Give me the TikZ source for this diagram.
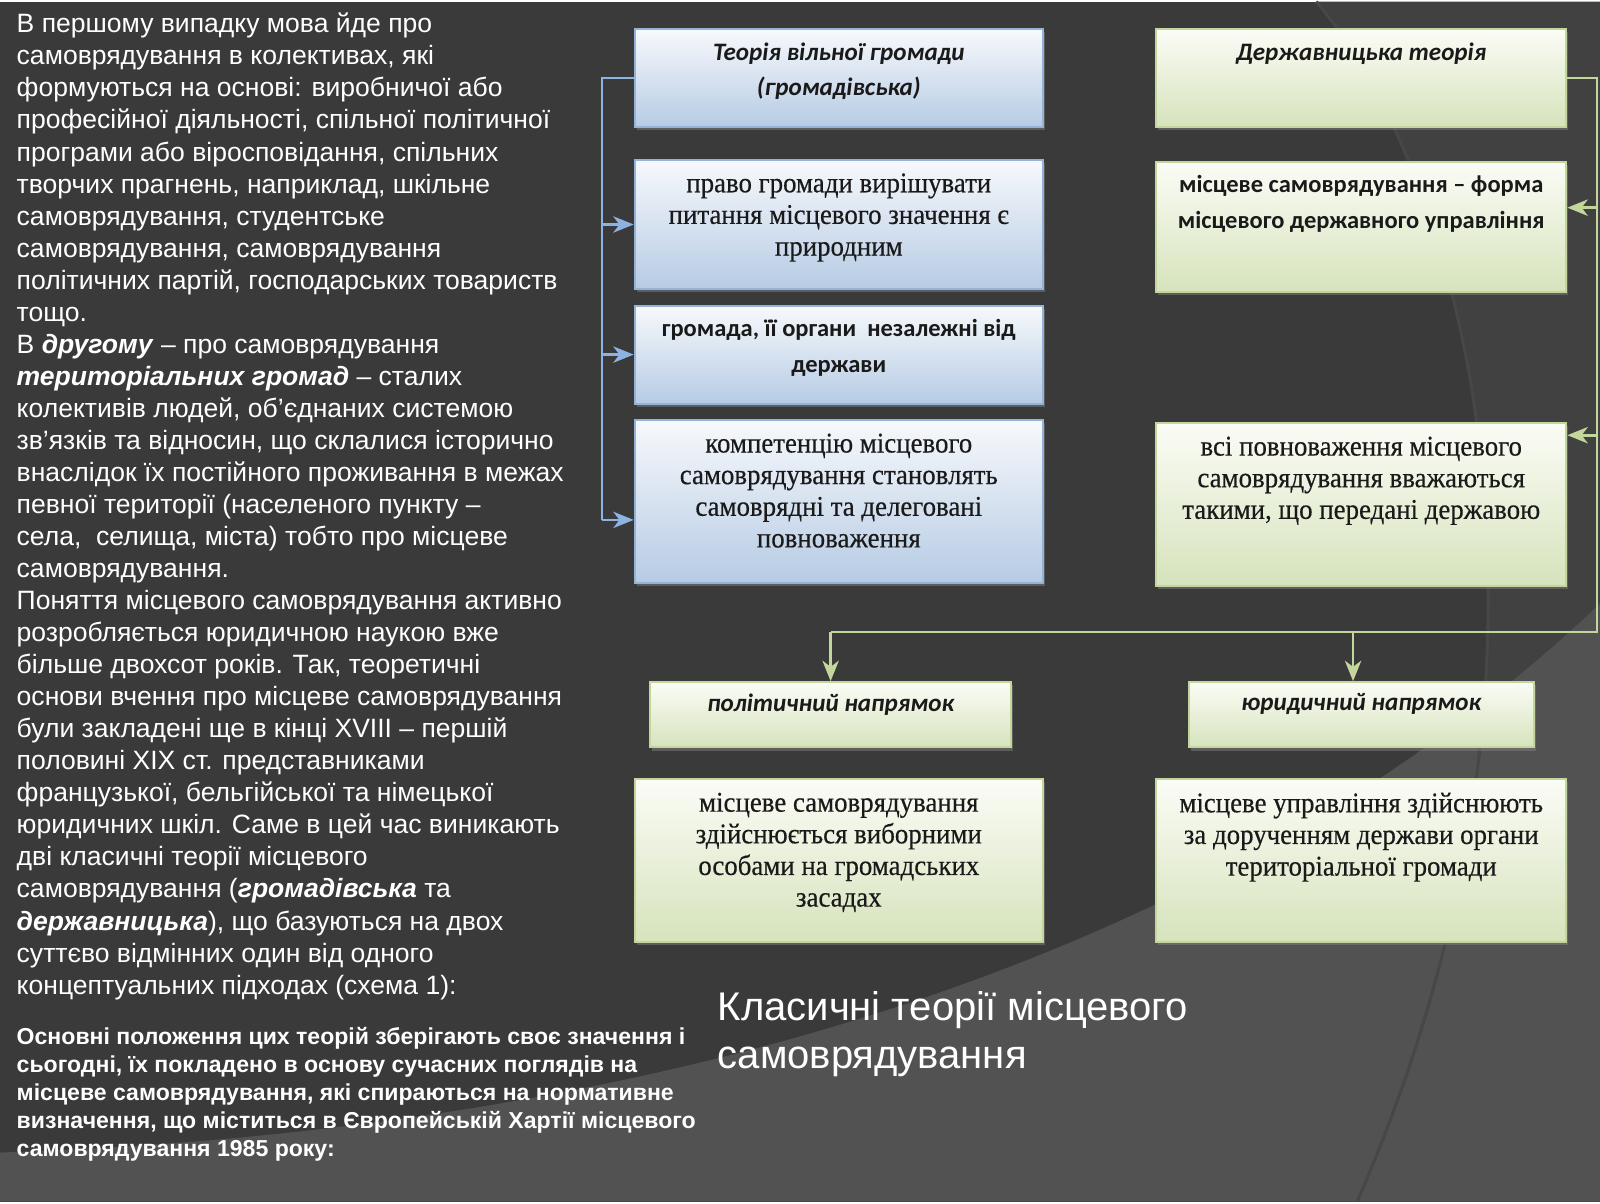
\documentclass[tikz,border=0pt]{standalone}
\usepackage{fontspec}
\setmainfont{Liberation Sans}
\newfontfamily\calfont{Carlito}
\newfontfamily\serfont{Liberation Serif}[FakeStretch=0.94, FakeBold=0.4]
\usetikzlibrary{positioning,arrows.meta,shadows}

\definecolor{bgdark}{HTML}{3A3A3A}
\definecolor{bgmid}{HTML}{414141}
\definecolor{bglight}{HTML}{525252}
\definecolor{bgline}{HTML}{474747}
\definecolor{bluetop}{HTML}{F7F9FC}
\definecolor{bluebot}{HTML}{B6CBE4}
\definecolor{blueedge}{HTML}{95B3D7}
\definecolor{blueln}{HTML}{8DB3E2}
\definecolor{greentop}{HTML}{FBFCF6}
\definecolor{greenbot}{HTML}{D6E3BC}
\definecolor{greenedge}{HTML}{C3D69B}
\definecolor{greenln}{HTML}{C3D69B}
\definecolor{boxink}{HTML}{1A1A1A}

\tikzset{
  box/.style={draw, line width=1pt, minimum width=200pt,
    drop shadow={shadow xshift=1pt, shadow yshift=-1.5pt, opacity=0.5}},
  bluebox/.style={box, draw=blueedge, top color=bluetop, bottom color=bluebot},
  greenbox/.style={box, draw=greenedge, top color=greentop, bottom color=greenbot},
  boxtext/.style={inner sep=0pt, align=center, text=boxink},
  captext/.style={boxtext, font=\calfont\bfseries\itshape\fontsize{12.3}{17}\selectfont},
  sanstext/.style={boxtext, font=\calfont\bfseries\fontsize{12}{17.5}\selectfont},
  sertext/.style={boxtext, font=\serfont\fontsize{14}{15.5}\selectfont},
  blueline/.style={draw=blueln, line width=1.3pt},
  greenline/.style={draw=greenln, line width=1.3pt},
  whitetext/.style={anchor=north west, inner sep=0pt, align=left, text=white}
}

\begin{document}
\begin{tikzpicture}[x=0.5pt, y=-0.5pt, >={Stealth[length=10pt,width=8pt,inset=3pt]}]
% background
\fill[bgdark] (0,0) rectangle (1568,1176);
\fill[bgmid] (1290,0) .. controls (1440,180) and (1560,650) .. (1330,1176) -- (1568,1176) -- (1568,0) -- cycle;
\fill[bglight] (0,1128) .. controls (600,1108) and (1180,960) .. (1568,590) -- (1568,1176) -- (0,1176) -- cycle;
\draw[bgline, line width=1.5pt] (1290,0) .. controls (1440,180) and (1560,650) .. (1330,1176);
\useasboundingbox (0,0) rectangle (1568,1176);

% left text
\node[whitetext, font=\fontsize{13}{15.7}\selectfont] (body) at (16,11) {В першому випадку мова йде про\\
самоврядування в колективах, які\\
формуються на основі: виробничої або\\
професійної діяльності, спільної політичної\\
програми або віросповідання, спільних\\
творчих прагнень, наприклад, шкільне\\
самоврядування, студентське\\
самоврядування, самоврядування\\
політичних партій, господарських товариств\\
тощо.\\
В \textbf{\textit{другому}} – про самоврядування\\
\textbf{\textit{територіальних громад}} – сталих\\
колективів людей, об’єднаних системою\\
зв’язків та відносин, що склалися історично\\
внаслідок їх постійного проживання в межах\\
певної території (населеного пункту –\\
села,\ \ селища, міста) тобто про місцеве\\
самоврядування.\\
Поняття місцевого самоврядування активно\\
розробляється юридичною наукою вже\\
більше двохсот років. Так, теоретичні\\
основи вчення про місцеве самоврядування\\
були закладені ще в кінці XVIII – першій\\
половині XIX ст. представниками\\
французької, бельгійської та німецької\\
юридичних шкіл. Саме в цей час виникають\\
дві класичні теорії місцевого\\
самоврядування (\textbf{\textit{громадівська}} та\\
\textbf{\textit{державницька}}), що базуються на двох\\
суттєво відмінних один від одного\\
концептуальних підходах (схема 1):};

\node[whitetext, font=\bfseries\fontsize{11.3}{13.65}\selectfont] (note) at (16,1005) {Основні положення цих теорій зберігають своє значення і\\
сьогодні, їх покладено в основу сучасних поглядів на\\
місцеве самоврядування, які спираються на нормативне\\
визначення, що міститься в Європейській Хартії місцевого\\
самоврядування 1985 року:};

\node[whitetext, font=\fontsize{19.6}{23.5}\selectfont] (title) at (703,970) {Класичні теорії місцевого\\самоврядування};

% connectors
\coordinate (bt) at (590,75);
\coordinate (bb) at (590,508);
\coordinate (gt) at (1565,75);
\coordinate (gb) at (1565,618);

\node[bluebox, minimum height=48pt] (b1) at (822,75) {};
\node[bluebox, minimum height=63.5pt] (b2) at (822,218.5) {};
\node[bluebox, minimum height=48pt] (b3) at (822,346) {};
\node[bluebox, minimum height=80pt] (b4) at (822,490) {};
\node[greenbox, minimum width=201pt, minimum height=48pt] (g1) at (1334,75) {};
\node[greenbox, minimum width=201pt, minimum height=64pt] (g2) at (1334,221) {};
\node[greenbox, minimum width=201pt, minimum height=80pt] (g3) at (1334,493) {};
\node[greenbox, minimum width=177pt, minimum height=32pt] (p1) at (814,699) {};
\node[greenbox, minimum width=169pt, minimum height=32pt] (p2) at (1334,699) {};
\node[greenbox, minimum height=80pt] (d1) at (822,842) {};
\node[greenbox, minimum width=201pt, minimum height=80pt] (d2) at (1334,842) {};

\path[blueline] (b1.west) -- (bt) -- (bb);
\path[blueline,->] (bt |- b2) -- (b2.west);
\path[blueline,->] (bt |- b3) -- (b3.west);
\path[blueline,->] (bb) -- (bb -| b4.west);

\coordinate (g2in) at ([yshift=9.5pt]g2.east);
\coordinate (g3in) at ([yshift=34pt]g3.east);
\coordinate (p2in) at ([xshift=-4pt]p2.north);
\path[greenline] (g1.east) -- (gt) -- (gb) -- (gb -| p1);
\path[greenline,->] (gt |- g2in) -- (g2in);
\path[greenline,->] (gt |- g3in) -- (g3in);
\path[greenline,->] (gb -| p1) -- (p1.north);
\path[greenline,->] (gb -| p2in) -- (p2in);

% box texts
\node[captext, below=7pt of b1.north] (b1t) {Теорія вільної громади\\(громадівська)};
\node[sertext, below=7pt of b2.north] (b2t) {право громади вирішувати\\питання місцевого значення є\\природним};
\node[sanstext, below=7pt of b3.north] (b3t) {громада, її органи\ \ незалежні від\\держави};
\node[sertext, below=7pt of b4.north] (b4t) {компетенцію місцевого\\самоврядування становлять\\самоврядні та делеговані\\повноваження};
\node[captext, below=7pt of g1.north] (g1t) {Державницька теорія};
\node[sanstext, below=7pt of g2.north] (g2t) {місцеве самоврядування – форма\\місцевого державного управління};
\node[sertext, below=7pt of g3.north] (g3t) {всі повноваження місцевого\\самоврядування вважаються\\такими, що передані державою};
\node[captext, below=6pt of p1.north] (p1t) {політичний напрямок};
\node[captext, below=6pt of p2.north] (p2t) {юридичний напрямок};
\node[sertext, below=7pt of d1.north] (d1t) {місцеве самоврядування\\здійснюється виборними\\особами на громадських\\засадах};
\node[sertext, below=7pt of d2.north] (d2t) {місцеве управління здійснюють\\за дорученням держави органи\\територіальної громади};
\end{tikzpicture}
\end{document}
